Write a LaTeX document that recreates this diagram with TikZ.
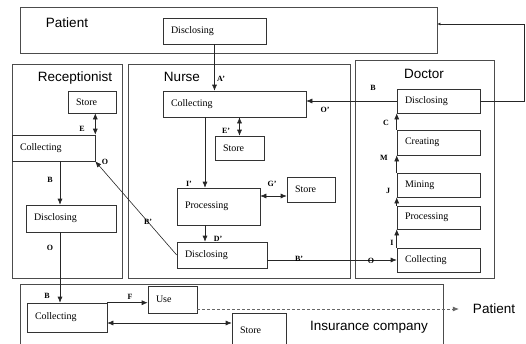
\documentclass[tikz,border=0pt]{standalone}
\usepackage{fontspec}
\setmainfont{Liberation Serif}
\newfontfamily\headfont{Liberation Sans}
\usetikzlibrary{arrows.meta}

\begin{document}
\begin{tikzpicture}[x=1pt, y=-1pt, >={Latex[length=6pt,width=5pt]},
    area/.style 2 args={draw=black!70, line width=0.7pt, minimum width=#1, minimum height=#2, inner sep=0pt},
    blk/.style 2 args={draw=black!80, line width=0.6pt, text width={#1-16pt}, minimum height=#2,
        inner xsep=8pt, inner ysep=0pt, align=left, font=\fontsize{10}{11}\selectfont},
    head/.style={font=\headfont\fontsize{13.5}{14}\selectfont, inner sep=0pt},
    tag/.style={font=\bfseries\fontsize{8}{9}\selectfont, inner sep=1pt},
    link/.style={draw=black!85, line width=0.6pt}]
    \useasboundingbox (0,0) rectangle (526,343);

    % regions
    \node[area={417pt}{46pt}] (patient) at (228.5,30) {};
    \node[area={110pt}{214pt}] (recep) at (67,171) {};
    \node[area={222pt}{214pt}] (nurse) at (239,171) {};
    \node[area={139pt}{218pt}] (doctor) at (424.5,169) {};
    \node[area={423pt}{66pt}] (insur) at (231.5,317) {};

    \node[head] (tPat) at (67,23) {Patient};
    \node[head] (tRec) at (75,78) {Receptionist};
    \node[head] (tNur) at (182,77) {Nurse};
    \node[head] (tDoc) at (424,74) {Doctor};
    \node[head] (tIns) at (369,327) {Insurance company};
    \node[head] (tOut) at (494,309) {Patient};

    % patient
    \node[blk={103pt}{26pt}] (PDis) at (214.5,31) {Disclosing};

    % receptionist
    \node[blk={48pt}{22pt}] (RSto) at (92,102) {Store};
    \node[blk={83pt}{26pt}] (RCol) at (53.5,148) {Collecting};
    \node[blk={90pt}{27pt}] (RDis) at (71,218.5) {Disclosing};

    % nurse
    \node[blk={143pt}{26pt}] (NCol) at (234.5,104) {Collecting};
    \node[blk={49pt}{24pt}] (NSto) at (239.5,148) {Store};
    \node[blk={83pt}{37pt}] (NPro) at (218.5,206.5) {Processing};
    \node[blk={48pt}{25pt}] (NStt) at (311,189.5) {Store};
    \node[blk={90pt}{26pt}] (NDis) at (222,255) {Disclosing};

    % doctor
    \node[blk={83pt}{24pt}] (DDis) at (438.5,101) {Disclosing};
    \node[blk={83pt}{25pt}] (DCre) at (438.5,142.5) {Creating};
    \node[blk={83pt}{24pt}] (DMin) at (438.5,185) {Mining};
    \node[blk={83pt}{23pt}] (DPro) at (438.5,217.5) {Processing};
    \node[blk={83pt}{24pt}] (DCol) at (438.5,260) {Collecting};

    % insurance company
    \node[blk={80pt}{29pt}] (ICol) at (67,317.5) {Collecting};
    \node[blk={49pt}{27pt}] (IUse) at (172.5,299.5) {Use};
    \node[blk={54pt}{34pt}] (ISto) at (259,330) {Store};

    % guides
    \coordinate (rx) at (60,0);
    \coordinate (nx) at (205,0);
    \coordinate (gy) at (0,196);
    \coordinate (sy) at (0,323);
    \coordinate (turn) at (524,24);

    % connectors
    \draw[link,->] (PDis.south) -- (PDis.south |- NCol.north);
    \draw[link,<->] (RCol.north east |- RSto.south) -- (RCol.north east);
    \draw[link,->] (NDis.west) -- (RCol.south east);
    \draw[link,->] (rx |- RCol.south) -- (rx |- RDis.north);
    \draw[link,->] (rx |- RDis.south) -- (rx |- ICol.north);
    \draw[link,<->] (NSto.north |- NCol.south) -- (NSto.north);
    \draw[link,->] (nx |- NCol.south) -- (nx |- NPro.north);
    \draw[link,<->] (NPro.east |- gy) -- (NStt.west |- gy);
    \draw[link,->] (nx |- NPro.south) -- (nx |- NDis.north);
    \draw[link,->] (DCol.west -| NDis.east) -- (DCol.west);
    \draw[link,->] (DDis.west) -- (DDis.west -| NCol.east);
    \draw[link,->] (DCol.north west) -- (DPro.south west);
    \draw[link,->] (DPro.north west) -- (DMin.south west);
    \draw[link,->] (DMin.north west) -- (DCre.south west);
    \draw[link,->] (DCre.north west) -- (DDis.south west);
    \draw[link,-{Latex[length=3pt,width=3pt]}] (DDis.east) -| (turn) -- (turn -| patient.east);
    \draw[link,->] (ICol.north east) -- (ICol.north east -| IUse.west);
    \draw[link,<->] (ICol.east |- sy) -- (ISto.west |- sy);
    \draw[link,->, draw=black!60, dash pattern=on 3pt off 2pt, shorten >=14pt]
        (tOut.west -| IUse.east) -- (tOut.west);

    % flow labels
    \node[tag] (lA) at (221,79) {A’};
    \node[tag] (lE) at (82,129) {E};
    \node[tag] (lO1) at (105,162) {O};
    \node[tag] (lB1) at (50,180) {B};
    \node[tag] (lO2) at (50,248) {O};
    \node[tag] (lB2) at (47,296) {B};
    \node[tag] (lB3) at (148,222) {B’};
    \node[tag] (lE2) at (226,131) {E’};
    \node[tag] (lI2) at (189,184) {I’};
    \node[tag] (lG) at (272,184) {G’};
    \node[tag] (lD) at (218,239) {D’};
    \node[tag] (lB4) at (299,259) {B’};
    \node[tag] (lO3) at (325,110) {O’};
    \node[tag] (lB5) at (373,88) {B};
    \node[tag] (lC) at (386,123) {C};
    \node[tag] (lM) at (384,158) {M};
    \node[tag] (lJ) at (388,191) {J};
    \node[tag] (lI) at (392,243) {I};
    \node[tag] (lO4) at (371,261) {O};
    \node[tag] (lF) at (130,297) {F};
\end{tikzpicture}
\end{document}
